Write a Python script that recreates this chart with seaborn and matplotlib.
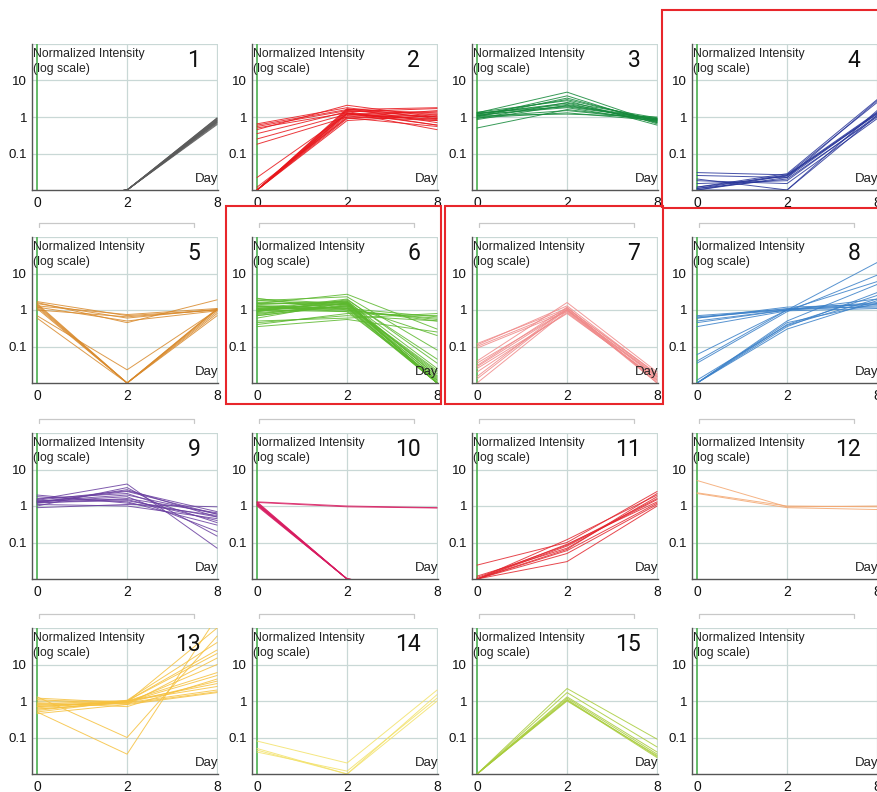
import numpy as np
import pandas as pd
import matplotlib
matplotlib.use("Agg")
import matplotlib.pyplot as plt
from matplotlib.patches import Rectangle
from matplotlib.lines import Line2D
import seaborn as sns

# time points (shown evenly spaced)
days = ["0", "2", "8"]

# one (day0, day2, day8) triple per gene, per cluster; values under 0.01 fall below the axis
c1 = [(0.005, 0.01, 0.62), (0.005, 0.01, 0.66), (0.005, 0.01, 0.70), (0.005, 0.01, 0.72),
      (0.005, 0.01, 0.75), (0.005, 0.01, 0.78), (0.005, 0.01, 0.80), (0.005, 0.01, 0.83),
      (0.005, 0.01, 0.86), (0.005, 0.01, 0.90), (0.005, 0.01, 0.93), (0.005, 0.01, 0.95)]
c2 = [(0.01, 1.5, 1.0), (0.01, 1.2, 0.8), (0.01, 0.9, 1.2), (0.01, 1.7, 0.7),
      (0.01, 1.0, 1.5), (0.01, 1.3, 0.6), (0.01, 0.8, 1.1), (0.01, 1.6, 1.3),
      (0.01, 1.1, 0.9), (0.01, 1.4, 1.7), (0.022, 1.2, 1.0), (0.012, 0.95, 0.55),
      (0.01, 1.25, 0.85), (0.55, 1.5, 1.2), (0.65, 1.8, 0.9), (0.45, 2.1, 1.0),
      (0.35, 1.4, 0.6), (0.25, 1.2, 1.4), (0.18, 1.0, 0.8), (0.6, 1.6, 1.8),
      (0.5, 1.3, 0.45)]
c3 = [(1.1, 2.0, 0.9), (1.2, 3.0, 0.8), (1.0, 1.5, 0.85), (1.3, 4.8, 0.7),
      (0.9, 2.5, 0.95), (1.15, 1.8, 0.75), (1.05, 3.8, 0.65), (1.25, 2.2, 0.9),
      (0.95, 1.3, 0.8), (1.35, 2.8, 0.6), (0.5, 1.6, 0.85), (1.1, 1.2, 1.0),
      (1.2, 2.4, 0.7), (1.0, 3.3, 0.75), (1.3, 1.9, 0.88), (0.85, 2.1, 0.82)]
c4 = [(0.01, 0.025, 1.2), (0.012, 0.024, 1.3), (0.011, 0.02, 1.0), (0.03, 0.026, 2.5),
      (0.025, 0.022, 2.8), (0.015, 0.018, 1.1), (0.01, 0.01, 1.5), (0.02, 0.01, 1.1),
      (0.012, 0.028, 3.0), (0.01, 0.022, 1.25), (0.018, 0.015, 0.9), (0.011, 0.026, 1.35)]
c5 = [(1.7, 0.7, 1.0), (1.5, 0.6, 1.05), (1.3, 0.75, 1.1), (1.2, 0.5, 0.95),
      (1.0, 0.65, 1.0), (1.6, 0.45, 1.9), (1.4, 0.01, 0.8), (1.3, 0.01, 1.0),
      (1.1, 0.01, 0.9), (0.7, 0.023, 1.0), (0.6, 0.01, 0.7), (1.5, 0.01, 1.1),
      (1.2, 0.01, 1.05)]
c6 = [(1.0, 1.5, 0.01), (1.2, 1.7, 0.01), (0.8, 1.3, 0.012), (1.5, 1.6, 0.01),
      (0.9, 1.8, 0.015), (1.1, 1.2, 0.01), (0.7, 1.4, 0.02), (1.3, 1.1, 0.01),
      (2.0, 1.5, 0.011), (0.6, 1.6, 0.013), (1.0, 1.0, 0.01), (1.4, 1.75, 0.025),
      (1.1, 1.45, 0.018), (0.85, 1.25, 0.01), (1.6, 1.35, 0.014), (0.95, 1.65, 0.01),
      (1.25, 0.9, 0.012), (0.75, 1.55, 0.016), (1.05, 1.15, 0.01), (1.8, 1.4, 0.022),
      (1.0, 0.9, 0.6), (2.1, 1.0, 0.5), (0.4, 0.8, 0.7), (1.2, 1.0, 0.55),
      (0.5, 0.6, 0.8), (0.35, 0.55, 0.25), (1.5, 2.7, 0.3), (1.8, 2.3, 0.08),
      (0.45, 0.7, 0.5), (1.3, 1.1, 0.65), (1.0, 2.0, 0.035), (0.9, 1.9, 0.045),
      (0.7, 1.3, 0.2)]
c7 = [(0.1, 1.0, 0.015), (0.12, 1.1, 0.018), (0.09, 0.9, 0.012), (0.03, 1.2, 0.01),
      (0.035, 1.0, 0.015), (0.025, 0.8, 0.013), (0.04, 1.6, 0.02), (0.013, 1.05, 0.011),
      (0.01, 0.95, 0.014), (0.015, 1.15, 0.016), (0.028, 1.0, 0.01), (0.11, 1.3, 0.017),
      (0.02, 0.85, 0.012)]
c8 = [(0.65, 1.0, 1.5), (0.6, 1.1, 1.2), (0.5, 1.0, 2.0), (0.35, 0.95, 1.1),
      (0.7, 1.05, 1.6), (0.45, 1.0, 1.3), (0.06, 1.0, 20.0), (0.035, 0.9, 9.0),
      (0.01, 0.5, 5.0), (0.01, 0.35, 3.0), (0.01, 0.4, 2.5), (0.012, 0.38, 2.0),
      (0.01, 0.45, 1.5), (0.04, 1.0, 6.0), (0.01, 0.3, 1.8), (0.6, 1.2, 1.4)]
c9 = [(1.3, 2.5, 0.6), (1.2, 2.8, 0.5), (1.4, 1.5, 0.4), (2.0, 1.2, 0.55),
      (1.1, 1.0, 0.45), (1.5, 4.0, 0.07), (1.0, 3.2, 0.15), (1.3, 1.8, 0.2),
      (0.9, 1.1, 0.95), (1.6, 2.2, 0.35), (1.2, 1.6, 0.65), (1.8, 1.3, 0.3),
      (1.35, 2.0, 0.6), (1.25, 1.4, 0.5), (1.45, 2.6, 0.7)]
c10 = [(1.0, 0.01, 0.005), (1.05, 0.01, 0.005), (1.1, 0.01, 0.005), (1.15, 0.01, 0.005),
       (1.2, 0.01, 0.005), (1.25, 0.01, 0.005), (1.3, 0.01, 0.005), (1.12, 0.01, 0.005),
       (1.3, 1.0, 0.9), (1.25, 0.95, 0.88)]
c11 = [(0.024, 0.1, 2.5), (0.01, 0.12, 2.0), (0.01, 0.08, 1.5), (0.01, 0.06, 1.2),
       (0.012, 0.07, 1.8), (0.01, 0.03, 1.0), (0.01, 0.09, 1.3), (0.01, 0.05, 1.1),
       (0.011, 0.085, 1.6), (0.01, 0.065, 2.2)]
c12 = [(5.0, 0.95, 1.0), (2.2, 0.9, 0.8), (2.3, 1.0, 0.95)]
c13 = [(0.6, 0.9, 2.0), (0.5, 1.0, 3.0), (0.7, 0.95, 5.0), (0.8, 0.85, 1.8),
       (1.0, 1.0, 20.0), (0.45, 0.8, 15.0), (0.55, 1.05, 40.0), (0.9, 0.7, 4.0),
       (1.2, 0.9, 10.0), (0.65, 1.0, 2.5), (0.75, 0.95, 100.0), (1.3, 0.1, 60.0),
       (0.5, 0.035, 200.0), (0.85, 1.0, 25.0), (0.6, 0.9, 3.5), (1.1, 0.8, 1.7),
       (0.7, 1.0, 6.0)]
c14 = [(0.08, 0.02, 2.0), (0.05, 0.01, 1.5), (0.04, 0.012, 1.2), (0.045, 0.01, 1.0)]
c15 = [(0.01, 2.2, 0.09), (0.01, 1.7, 0.055), (0.01, 1.2, 0.035), (0.01, 1.1, 0.03),
       (0.01, 1.0, 0.032), (0.01, 1.3, 0.04), (0.01, 1.05, 0.028)]
c16 = []

clusters = [c1, c2, c3, c4, c5, c6, c7, c8, c9, c10, c11, c12, c13, c14, c15, c16]
colors = ["#5a5a5a", "#e8161b", "#14893a", "#28359a", "#d98a2c", "#5cb82e",
          "#f08a8a", "#3a80c8", "#6a3fa0", "#d81b60", "#e3262e", "#f4a770",
          "#f6c13e", "#f3e26a", "#a8cc3a", "#888888"]
highlight = [4, 6, 7]

sns.set_style("white")
plt.rcParams["font.family"] = ["Liberation Sans", "DejaVu Sans"]

W, H = 878, 792
fig = plt.figure(figsize=(W / 100, H / 100), dpi=100)

col_left = [32, 252, 472, 692]
row_top = [44, 237, 433, 628]
aw, ah = 186, 146
grid_c = "#c9d8d6"

for i, data in enumerate(clusters):
    r, c = divmod(i, 4)
    ax = fig.add_axes([col_left[c] / W, 1 - (row_top[r] + ah) / H, aw / W, ah / H])
    ax.set_yscale("log")

    for v in [0.1, 1, 10, 100]:
        ax.axhline(v, color=grid_c, lw=0.9, zorder=0)
    for x in [1, 2]:
        ax.axvline(x, color=grid_c, lw=0.9, zorder=0)
    ax.axvline(0, color="#4caf50", lw=1.2, zorder=0)

    if data:
        rows = []
        for g, vals in enumerate(data):
            for p, v in enumerate(vals):
                rows.append({"gene": g, "pos": p, "value": v})
        df = pd.DataFrame(rows)
        sns.lineplot(data=df, x="pos", y="value", units="gene", estimator=None,
                     color=colors[i], lw=0.7, alpha=0.85, ax=ax, legend=False)

    ax.set_xlim(-0.056, 2.01)
    ax.set_ylim(0.01, 100)
    ax.set_xticks([0, 1, 2])
    ax.set_xticklabels(days, fontsize=10, color="#111111")
    ax.set_yticks([0.1, 1, 10])
    ax.set_yticklabels(["0.1", "1", "10"], fontsize=9.5, color="#111111")
    ax.yaxis.set_minor_locator(matplotlib.ticker.LogLocator(subs=np.arange(2, 10)))
    ax.yaxis.set_minor_formatter(matplotlib.ticker.NullFormatter())
    ax.tick_params(axis="y", which="major", direction="inout", length=5, width=0.7,
                   color="#666666", pad=1)
    ax.tick_params(axis="y", which="minor", direction="inout", length=3, width=0.5,
                   color="#888888")
    ax.tick_params(axis="x", direction="out", length=3, width=0.7, color="#666666", pad=1)
    ax.set_xlabel("")
    ax.set_ylabel("")
    for s in ["top", "right"]:
        ax.spines[s].set_visible(False)
    for s in ["left", "bottom"]:
        ax.spines[s].set_color("#555555")
        ax.spines[s].set_linewidth(1.0)

    ax.text(0.005, 0.975, "Normalized Intensity\n(log scale)", transform=ax.transAxes,
            ha="left", va="top", fontsize=8.8, color="#222222", linespacing=1.4)
    ax.text(1.0, 0.035, "Day", transform=ax.transAxes, ha="right", va="bottom",
            fontsize=9.5, color="#222222")
    if i < 15:
        ax.text(0.905, 0.885, str(i + 1), transform=ax.transAxes, ha="right",
                va="center", fontsize=16.5,
                family=["Liberation Sans Narrow", "Roboto", "DejaVu Sans"], color="#111111")

    # thin bracket above the lower panels
    if r > 0:
        yb = 1.093
        ax.add_line(Line2D([0.04, 0.04, 0.87, 0.87], [yb - 0.025, yb, yb, yb - 0.025],
                           transform=ax.transAxes, color="#c8c8c8", lw=0.9, clip_on=False))

# red frames around selected clusters (figure pixel boxes)
boxes = {4: (662, 10, 880, 208), 6: (226, 206, 441, 404), 7: (445, 206, 663, 404)}
for k in highlight:
    x0, y0, x1, y1 = boxes[k]
    fig.add_artist(Rectangle((x0 / W, 1 - y1 / H), (x1 - x0) / W, (y1 - y0) / H,
                             transform=fig.transFigure, fill=False,
                             edgecolor="#e8262b", lw=1.5))

fig.savefig("out.png", dpi=100)
